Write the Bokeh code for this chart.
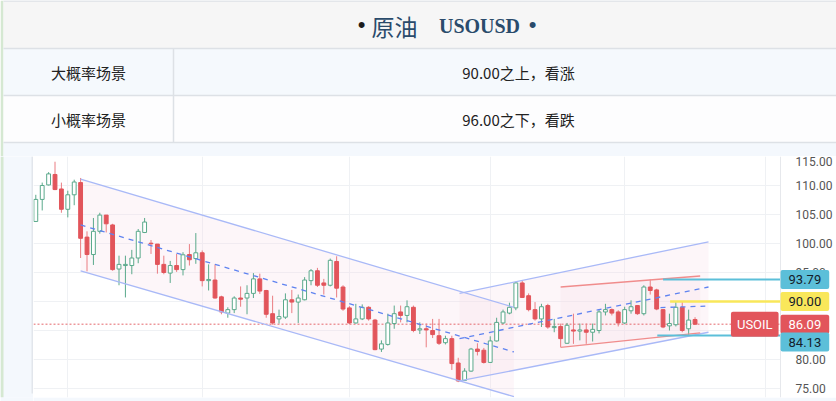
from bokeh.plotting import figure
from bokeh.layouts import column, row
from bokeh.models import (Range1d, FixedTicker, Grid, Label, PrintfTickFormatter,
                          ColumnDataSource)
from bokeh.core.properties import value
from bokeh.embed import file_html
from bokeh.resources import INLINE

# ---------------- data ----------------
title_cn = "原油"
title_sym = "USOUSD"
row_labels = ["大概率场景", "小概率场景"]
row_texts = ["90.00之上，看涨", "96.00之下，看跌"]

opens = [103.8, 107.6, 110.1, 111.9, 109.4, 105.9, 108.4, 110.5, 101.1, 98.1,
         102.1, 104.9, 103.2, 95.6, 96.2, 96.2, 97.5, 101.9, 100.05, 99.9,
         96.4, 94.9, 96.2, 95.5, 98.1, 97.4, 98.4, 93.6, 93.7, 90.8,
         88.0, 88.6, 90.6, 90.6, 91.4, 93.9, 91.9, 87.9, 87.0, 87.3,
         90.3, 89.9, 90.3, 93.6, 95.3, 93.2, 92.8, 96.9, 92.5, 88.9,
         86.3, 87.0, 89.0, 86.8, 81.8, 82.6, 86.2, 88.2, 87.6, 89.0,
         85.1, 85.3, 85.0, 84.1, 82.9, 83.6, 79.4, 76.4, 78.0, 81.8,
         81.6, 79.5, 83.2, 86.3, 88.0, 88.9, 93.2, 91.0, 88.6, 87.0,
         89.3, 85.5, 85.7, 82.8, 85.1, 84.9, 85.1, 84.7, 85.0, 88.2,
         88.6, 88.2, 86.3, 88.4, 89.3, 87.9, 92.5, 92.0, 88.6, 85.8,
         86.0, 89.0, 85.3, 86.9]
highs = [108.4, 110.5, 112.3, 114.1, 110.5, 109.1, 111.0, 111.3, 102.1, 104.4,
         105.3, 104.9, 103.4, 97.9, 97.9, 98.9, 102.5, 104.4, 100.6, 99.9,
         97.9, 97.0, 98.2, 98.5, 99.9, 101.8, 98.8, 96.4, 96.4, 91.0,
         89.0, 90.9, 92.6, 92.8, 94.9, 94.8, 92.0, 91.0, 88.6, 91.4,
         92.0, 91.2, 94.2, 95.6, 95.8, 93.9, 97.4, 97.8, 92.8, 89.2,
         89.6, 89.5, 89.2, 87.0, 83.3, 87.9, 89.3, 89.3, 90.2, 89.3,
         86.4, 86.2, 87.0, 87.0, 84.1, 84.1, 80.3, 78.5, 82.0, 82.8,
         82.0, 84.0, 87.2, 88.6, 89.8, 93.4, 93.7, 91.4, 89.9, 89.6,
         89.6, 87.0, 86.2, 86.3, 87.9, 86.2, 86.2, 86.2, 88.7, 89.6,
         88.8, 88.5, 89.1, 90.2, 89.4, 92.8, 93.79, 92.2, 88.7, 87.9,
         89.9, 89.9, 88.6, 87.3]
lows = [103.7, 105.7, 110.0, 109.2, 105.3, 104.5, 106.6, 97.5, 95.2, 96.3,
        101.7, 101.9, 95.3, 92.8, 90.7, 94.7, 96.6, 101.8, 98.2, 94.8,
        94.7, 93.2, 95.1, 94.5, 96.2, 96.5, 92.6, 91.9, 90.5, 87.8,
        87.2, 88.0, 89.1, 87.8, 90.6, 91.3, 87.2, 86.0, 86.2, 87.0,
        88.0, 86.3, 90.2, 92.8, 92.5, 91.2, 92.6, 90.7, 88.4, 86.1,
        86.2, 86.8, 86.7, 81.6, 81.3, 82.4, 85.3, 86.4, 86.4, 84.7,
        84.4, 82.1, 83.7, 82.5, 82.6, 78.2, 76.1, 76.3, 77.9, 80.7,
        79.3, 79.4, 83.1, 86.1, 87.8, 88.5, 90.6, 88.3, 86.7, 85.6,
        85.3, 84.7, 82.1, 82.7, 82.7, 83.3, 82.7, 83.1, 84.5, 87.6,
        87.6, 85.7, 86.1, 87.9, 87.7, 87.6, 91.2, 88.5, 85.4, 85.0,
        85.7, 84.7, 84.13, 86.0]
closes = [107.6, 110.0, 112.0, 109.3, 105.9, 108.4, 110.6, 100.9, 98.1, 102.1,
          104.9, 103.4, 95.5, 96.4, 96.4, 97.5, 102.1, 103.7, 99.95, 96.4,
          95.0, 96.2, 95.5, 98.05, 97.2, 98.4, 93.6, 93.8, 90.6, 88.2,
          88.6, 90.6, 90.4, 91.4, 93.9, 91.8, 87.8, 86.3, 87.4, 90.3,
          89.9, 90.6, 93.7, 95.3, 92.8, 92.8, 97.1, 92.3, 88.7, 86.3,
          87.0, 89.0, 87.0, 81.7, 82.7, 86.3, 87.9, 87.6, 89.1, 85.0,
          85.3, 85.1, 84.3, 82.8, 83.6, 79.3, 76.3, 78.0, 81.8, 81.4,
          79.5, 83.2, 86.4, 88.2, 89.0, 93.2, 90.7, 88.6, 87.0, 89.1,
          85.6, 85.7, 83.6, 85.9, 84.9, 85.1, 84.7, 85.2, 88.2, 88.6,
          88.0, 86.3, 88.6, 89.1, 87.9, 92.5, 91.9, 88.7, 85.6, 86.2,
          89.0, 85.0, 86.8, 86.09]

y_ticks = [75, 80, 85, 90, 95, 100, 105, 110, 115]
period_ticks = [5, 26, 49, 71, 92, 114]

# drawings (candle index, price)
desc_x = [7.0, 74.7]
desc_upper = [111.1, 89.0]
desc_lower = [95.3, 73.6]
desc_mid = [103.2, 81.3]

asc_x = [66.2, 105.1]
asc_upper = [91.4, 100.3]
asc_lower = [76.3, 84.7]
asc_mid = [83.6, 92.5]

red_x = [82.0, 103.8]
red_upper = [92.5, 94.4]
red_lower = [82.1, 84.6]
red_mid_x = [97.6, 104.6]
red_mid = [88.95, 89.2]

resist_level, resist_start = 93.79, 98.0
target_level, target_start = 90.00, 99.1
support_level, support_start = 84.13, 97.1
last_price = 86.09
symbol = "USOIL"

# ---------------- colours ----------------
UP = "#5aa98b"
DOWN = "#e2555b"
DOWN_WICK = "#ea7d82"
CH_BLUE = "#a9b9f7"
MID_BLUE = "#5f83f0"
CH_RED = "#f08c8c"
CYAN = "#5cbfd9"
YELLOW = "#f9e75a"
PANEL = "#f4f8fd"

W, H = 836, 401
HEAD_H = 156
STRIP_W = 33
CH_H = H - HEAD_H
BOTTOM = 4
Y0, Y1 = 73.45, 115.0
X0 = -0.36          # frame left
X_AXIS = 116.36     # price-scale boundary
X1 = 125.1          # canvas right edge

# ---------------- header ----------------
hd = figure(width=W, height=HEAD_H, output_backend="svg", toolbar_location=None,
            x_range=Range1d(0, 836), y_range=Range1d(156, 0),
            x_axis_location=None, y_axis_location=None, title=None,
            min_border=0, outline_line_color=None,
            background_fill_color="white", border_fill_color="white")
hd.xgrid.visible = False
hd.ygrid.visible = False
hd.quad(left=[0, 3, 3, 3, 3], right=[3, 836, 836, 836, 836],
        top=[0, 0, 48, 95, 142], bottom=[156, 48, 95, 142, 156],
        fill_color=["#d5e8d2", "#f6f6f6", "#f5f9fd", "#fdfdfe", PANEL], line_color=None)
hd.segment(x0=[3, 3, 3, 3, 173], x1=[836, 836, 836, 836, 173],
           y0=[0.5, 48, 95, 142, 48], y1=[0.5, 48, 95, 142, 142],
           line_color="#dde1e6", line_width=1.5)
hd.text(x=[361, 532], y=[24, 24], text=["•", "•"], text_color=["#1c1c1c", "#2a4b6b"],
        text_font_size="22px", text_align="center", text_baseline="middle")
hd.text(x=[394], y=[25], text=[title_cn], text_color="#2a4b6b",
        text_font=value("Noto Sans CJK SC"), text_font_size="23px",
        text_align="center", text_baseline="middle")
hd.text(x=[479], y=[25], text=[title_sym], text_color="#2a4b6b",
        text_font=value("Liberation Serif"), text_font_size="20px", text_font_style="bold",
        text_align="center", text_baseline="middle")
hd.text(x=[88, 88], y=[72, 119], text=row_labels, text_color="#222222",
        text_font=value("Noto Sans CJK SC"), text_font_size="15px",
        text_align="center", text_baseline="middle")
hd.text(x=[518, 518], y=[72, 119], text=row_texts, text_color="#222222",
        text_font=value("Noto Sans CJK SC"), text_font_size="15px",
        text_align="center", text_baseline="middle")

# ---------------- left strip ----------------
st = figure(width=STRIP_W, height=CH_H, output_backend="svg", toolbar_location=None,
            x_range=Range1d(0, 33), y_range=Range1d(245, 0),
            x_axis_location=None, y_axis_location=None, title=None,
            min_border=0, outline_line_color=None,
            background_fill_color=PANEL, border_fill_color=PANEL)
st.xgrid.visible = False
st.ygrid.visible = False
st.quad(left=[0, 31], right=[3, 33], top=[0, 0], bottom=[245, 241],
        fill_color=["#d5e8d2", "#e2e6ec"], line_color=None)

# ---------------- chart ----------------
n = len(opens)
idx = list(range(n))
cp = figure(width=W - STRIP_W, height=CH_H, output_backend="svg", toolbar_location=None,
            x_range=Range1d(X0, X1), y_range=Range1d(Y0, Y1),
            x_axis_location=None, y_axis_location="right", title=None,
            min_border=0, min_border_bottom=BOTTOM,
            outline_line_color=None,
            background_fill_color="white", border_fill_color=PANEL)
ax = cp.yaxis[0]
ax.fixed_location = X_AXIS
ax.ticker = FixedTicker(ticks=y_ticks)
ax.formatter = PrintfTickFormatter(format="%.2f")
ax.major_tick_line_color = None
ax.minor_tick_line_color = None
ax.axis_line_color = "#e6e8ec"
ax.major_label_text_font = "Roboto"
ax.major_label_text_font_size = "12px"
ax.major_label_text_color = "#555555"
ax.major_label_standoff = 9
cp.ygrid.grid_line_color = "#eff1f4"
cp.xgrid.visible = False
cp.add_layout(Grid(dimension=0, ticker=FixedTicker(ticks=period_ticks),
                   grid_line_color="#eff1f4"))

# channel fills
for xs, up_, lo_ in [(desc_x, desc_upper, desc_lower), (asc_x, asc_upper, asc_lower),
                     (red_x, red_upper, red_lower)]:
    cp.patch(x=[xs[0], xs[1], xs[1], xs[0]], y=[up_[0], up_[1], lo_[1], lo_[0]],
             fill_color="#f6dbe6", fill_alpha=0.25, line_color=None)

# last price dotted line
cp.ray(x=[X0], y=[last_price], length=0, angle=0, line_color="#e4676c",
       line_dash="2 2", line_width=1)

# candles
is_up = [c >= o for o, c in zip(opens, closes)]
wick_col = [UP if u else DOWN_WICK for u in is_up]
cp.segment(x0=idx, x1=idx, y0=lows, y1=highs, line_color=wick_col, line_width=1)
src = ColumnDataSource(dict(
    x=idx,
    top=[max(o, c) for o, c in zip(opens, closes)],
    bottom=[min(o, c) for o, c in zip(opens, closes)],
    fill=["white" if u else DOWN for u in is_up],
    line=[UP if u else DOWN for u in is_up],
))
cp.vbar(x="x", top="top", bottom="bottom", width=0.6, fill_color="fill",
        line_color="line", line_width=1, source=src)

# channel lines
for xs, ys, col, dash in [(desc_x, desc_upper, CH_BLUE, "solid"), (desc_x, desc_lower, CH_BLUE, "solid"),
                          (desc_x, desc_mid, MID_BLUE, "5 5"),
                          (asc_x, asc_upper, CH_BLUE, "solid"), (asc_x, asc_lower, CH_BLUE, "solid"),
                          (asc_x, asc_mid, MID_BLUE, "5 5"),
                          (red_x, red_upper, CH_RED, "solid"), (red_x, red_lower, CH_RED, "solid"),
                          (red_mid_x, red_mid, MID_BLUE, "5 5")]:
    cp.line(x=xs, y=ys, line_color=col, line_width=1.3, line_dash=dash)

# horizontal levels
cp.ray(x=[resist_start, support_start], y=[resist_level, support_level], length=0, angle=0,
       line_color=CYAN, line_width=2)
cp.ray(x=[target_start], y=[target_level], length=0, angle=0,
       line_color=YELLOW, line_width=2.5)

# price-scale background (covers grid / rays right of the scale boundary)
cp.quad(left=[X_AXIS], right=[X1], bottom=[Y0], top=[Y1], fill_color="white", line_color=None)

# price labels
def tag(text, y, bg, fg, x=X_AXIS, anchor="center_left", pad=(8, 5)):
    cp.add_layout(Label(x=x, y=y, text=text, anchor=anchor,
                        text_font="Roboto", text_font_size="13px", text_color=fg,
                        background_fill_color=bg, padding=pad, border_radius=2))

tag(f"{resist_level:.2f}", resist_level, CYAN, "#15202a")
tag(f"{target_level:.2f}", target_level, YELLOW, "#15202a")
tag(f"{last_price:.2f}", last_price, DOWN, "white")
tag(f"{support_level:.2f}", 83.0, CYAN, "#15202a")
tag(symbol, last_price, DOWN, "white", x=116.05, anchor="center_right", pad=(6, 5))

layout = column(hd, row(st, cp))
open("out.html", "w", encoding="utf-8").write(file_html(layout, INLINE))
